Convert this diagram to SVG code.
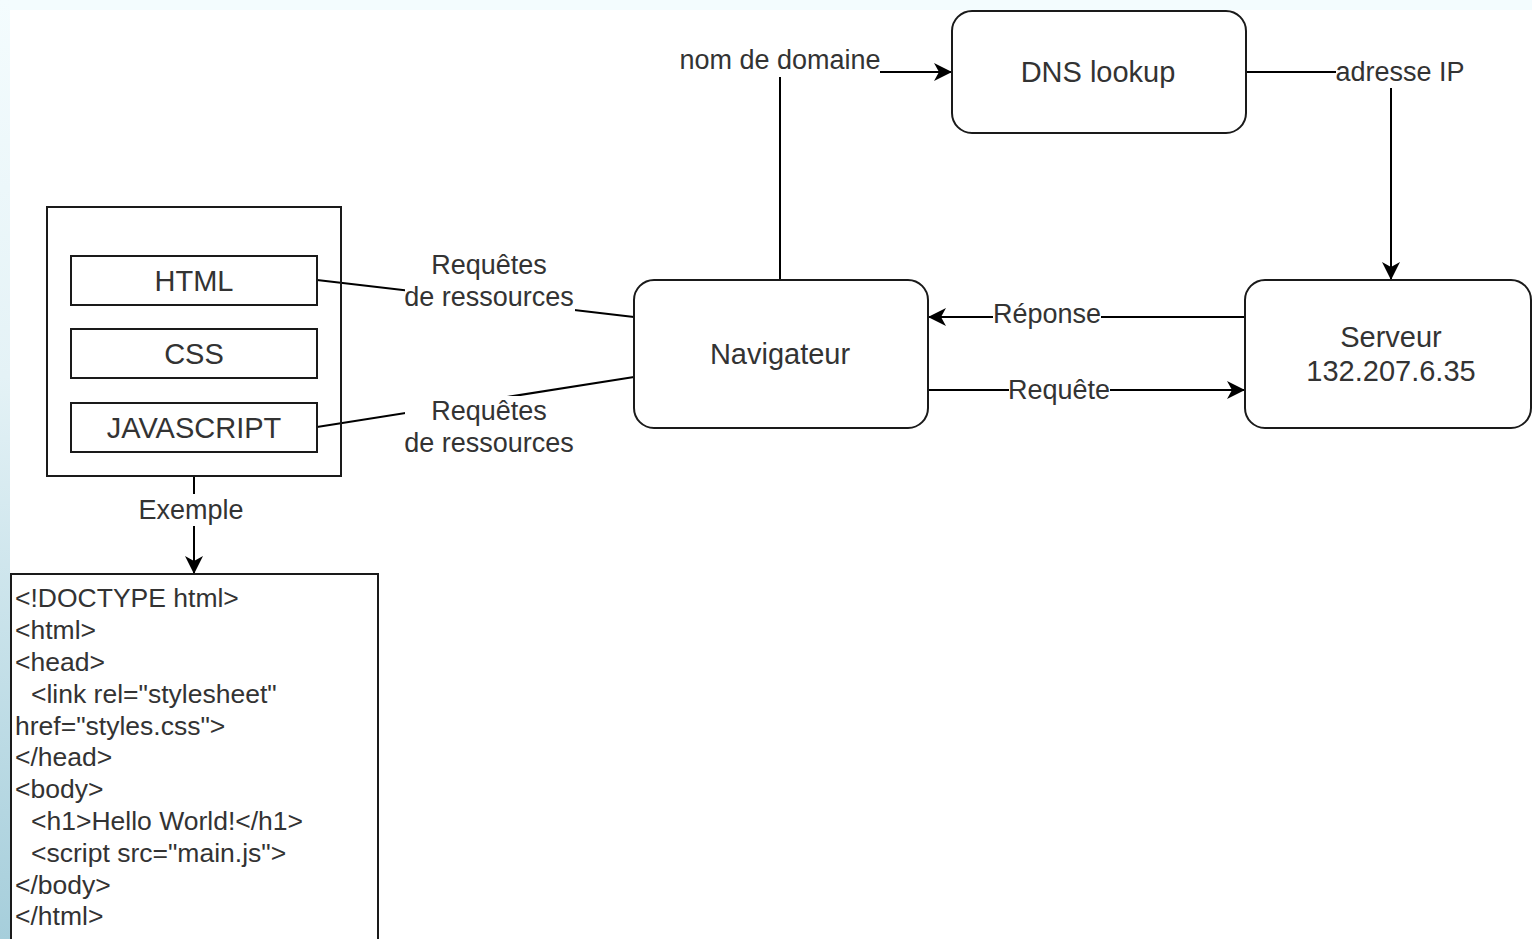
<svg xmlns="http://www.w3.org/2000/svg" width="1532" height="939" viewBox="0 0 1532 939">
<defs>
<linearGradient id="edge" x1="0" y1="0" x2="0" y2="1">
<stop offset="0" stop-color="#f4fcfe"/>
<stop offset="0.4" stop-color="#e4f2f6"/>
<stop offset="1" stop-color="#a6cedb"/>
</linearGradient>
<marker id="arr" markerUnits="userSpaceOnUse" markerWidth="20" markerHeight="20" refX="18" refY="9" orient="auto" overflow="visible">
<path d="M0,0 L18,9 L0,18 L5,9 Z" fill="#000"/>
</marker>
<style>
.n{fill:#fff;stroke:#1a1a1a;stroke-width:2}
.t{font-family:"Liberation Sans",Arial,sans-serif;font-size:27px;fill:#333;text-anchor:middle;dominant-baseline:central}
.nt{font-size:29px}
.c{font-family:"Liberation Sans",Arial,sans-serif;font-size:26.5px;fill:#333;dominant-baseline:central}
.e{fill:none;stroke:#000;stroke-width:2}
.lb{fill:#fff}
</style>
</defs>
<rect width="1532" height="939" fill="#fff"/>
<rect width="1532" height="10" fill="#f3fcfe"/>
<rect width="10" height="939" fill="url(#edge)"/>

<g id="connectors">
<path class="e" d="M780,280 L780,72 L952,72" marker-end="url(#arr)"/>
<rect class="lb" x="680" y="44" width="200" height="33"/>
<text class="t" x="780" y="60">nom de domaine</text>

<path class="e" d="M1246,72 L1391,72 L1391,280" marker-end="url(#arr)"/>
<rect class="lb" x="1336" y="56" width="128" height="32"/>
<text class="t" x="1400" y="72">adresse IP</text>

<path class="e" d="M1245,317 L928,317" marker-end="url(#arr)"/>
<rect class="lb" x="993" y="300" width="108" height="30"/>
<text class="t" x="1047" y="314">Réponse</text>

<path class="e" d="M928,390 L1245,390" marker-end="url(#arr)"/>
<rect class="lb" x="1009" y="376" width="101" height="30"/>
<text class="t" x="1059" y="390">Requête</text>

<path class="e" d="M317,280 L634,317"/>
<rect class="lb" x="405" y="250" width="170" height="62"/>
<text class="t" x="489" y="265">Requêtes</text>
<text class="t" x="489" y="297">de ressources</text>

<path class="e" d="M317,427 L634,377"/>
<rect class="lb" x="405" y="396" width="170" height="62"/>
<text class="t" x="489" y="411">Requêtes</text>
<text class="t" x="489" y="443">de ressources</text>

<path class="e" d="M194,476 L194,574" marker-end="url(#arr)"/>
<rect class="lb" x="138" y="494" width="107" height="32"/>
<text class="t" x="191" y="510">Exemple</text>
</g>

<g id="container">
<rect x="47" y="207" width="294" height="269" fill="none" stroke="#1a1a1a" stroke-width="2"/>
</g>
<g id="html">
<rect class="n" x="71" y="256" width="246" height="49"/>
<text class="t nt" x="194" y="281">HTML</text>
</g>
<g id="css">
<rect class="n" x="71" y="329" width="246" height="49"/>
<text class="t nt" x="194" y="354">CSS</text>
</g>
<g id="javascript">
<rect class="n" x="71" y="403" width="246" height="49"/>
<text class="t nt" x="194" y="428">JAVASCRIPT</text>
</g>

<g id="navigateur">
<rect class="n" x="634" y="280" width="294" height="148" rx="20" ry="20"/>
<text class="t nt" x="780" y="354">Navigateur</text>
</g>
<g id="dns">
<rect class="n" x="952" y="11" width="294" height="122" rx="20" ry="20"/>
<text class="t nt" x="1098" y="72">DNS lookup</text>
</g>
<g id="serveur">
<rect class="n" x="1245" y="280" width="286" height="148" rx="20" ry="20"/>
<text class="t nt" x="1391" y="337">Serveur</text>
<text class="t nt" x="1391" y="371">132.207.6.35</text>
</g>

<g id="code">
<rect class="n" x="11" y="574" width="367" height="380"/>
<text class="c" x="15" y="598">&lt;!DOCTYPE html&gt;</text>
<text class="c" x="15" y="630">&lt;html&gt;</text>
<text class="c" x="15" y="662">&lt;head&gt;</text>
<text class="c" x="31" y="694">&lt;link rel="stylesheet"</text>
<text class="c" x="15" y="726">href="styles.css"&gt;</text>
<text class="c" x="15" y="757">&lt;/head&gt;</text>
<text class="c" x="15" y="789">&lt;body&gt;</text>
<text class="c" x="31" y="821">&lt;h1&gt;Hello World!&lt;/h1&gt;</text>
<text class="c" x="31" y="853">&lt;script src="main.js"&gt;</text>
<text class="c" x="15" y="885">&lt;/body&gt;</text>
<text class="c" x="15" y="916">&lt;/html&gt;</text>
</g>
</svg>
